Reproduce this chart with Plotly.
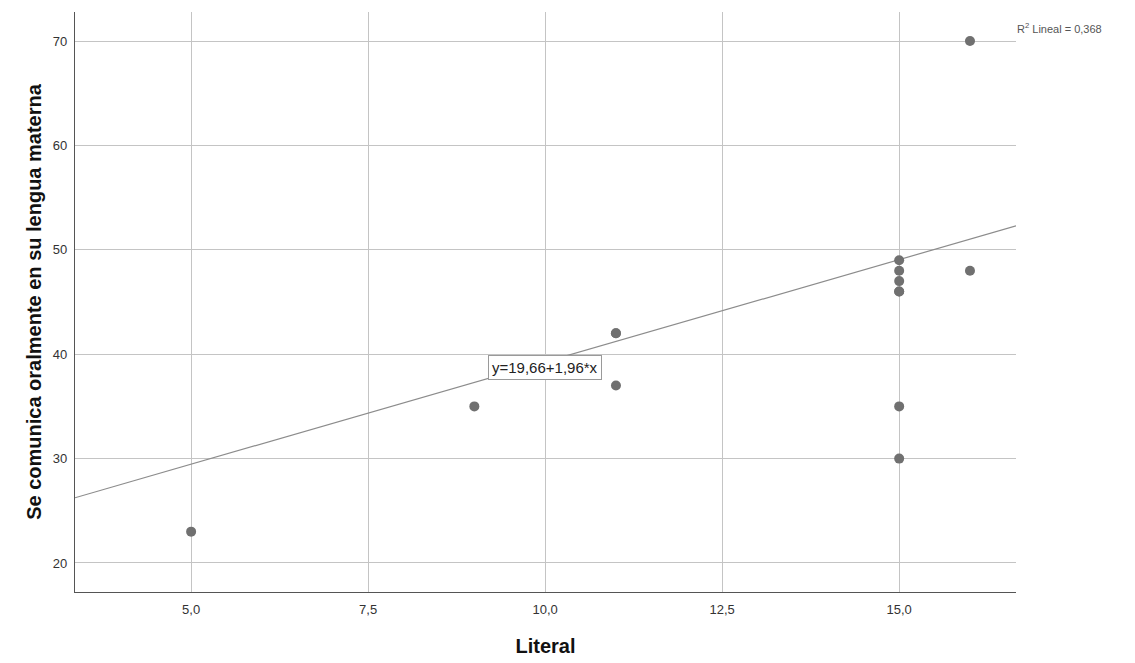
import plotly.graph_objects as go

x_vals = [5, 9, 11, 11, 11, 15, 15, 15, 15, 15, 15, 15, 16, 16]
y_vals = [23, 35, 42, 42, 37, 49, 48, 47, 46, 46, 35, 30, 70, 48]
intercept = 19.66
slope = 1.96
r2_text = "R<sup>2</sup> Lineal = 0,368"
eq_text = "y=19,66+1,96*x"
x_ticks = [5.0, 7.5, 10.0, 12.5, 15.0]
y_ticks = [20, 30, 40, 50, 60, 70]

x_range = [3.36, 16.65]
y_range = [17.22, 72.78]

fig = go.Figure()
fig.add_trace(go.Scatter(
    x=x_range, y=[intercept + slope * v for v in x_range],
    mode="lines", line=dict(color="#8c8c8c", width=1.2),
    hoverinfo="skip", showlegend=False))
fig.add_trace(go.Scatter(
    x=x_vals, y=y_vals, mode="markers",
    marker=dict(color="#707070", size=10),
    showlegend=False))

fig.add_annotation(x=10.0, y=38.7, xref="x", yref="y", text=eq_text,
                   showarrow=False, bgcolor="white", bordercolor="#9a9a9a",
                   borderwidth=1, borderpad=3,
                   font=dict(family="Liberation Sans, Arial", size=15, color="#222"))
fig.add_annotation(x=1.0, y=1.0, xref="paper", yref="paper", text=r2_text,
                   showarrow=False, xanchor="left", yanchor="top", xshift=-1, yshift=-7,
                   font=dict(family="Liberation Sans, Arial", size=11, color="#555"))

fig.update_layout(
    width=1127, height=655,
    margin=dict(l=67, r=119, t=4, b=71),
    paper_bgcolor="white", plot_bgcolor="white",
    separators=",.",
    font=dict(family="Liberation Sans, Arial", size=13, color="#333"),
    xaxis=dict(range=x_range, tickvals=x_ticks, tickformat=".1f",
               showgrid=True, gridcolor="#c4c4c4", gridwidth=1,
               showline=True, linecolor="#555", linewidth=1.2,
               zeroline=False, ticks="", ticklabelstandoff=5,
               title=dict(text="<b>Literal</b>", font=dict(size=20, color="#111"), standoff=23)),
    yaxis=dict(range=y_range, tickvals=y_ticks,
               showgrid=True, gridcolor="#c4c4c4", gridwidth=1,
               showline=True, linecolor="#555", linewidth=1.2,
               zeroline=False, ticks="", ticklabelstandoff=4,
               title=dict(text="<b>Se comunica oralmente en su lengua materna</b>",
                          font=dict(size=20, color="#111"), standoff=5)),
)

fig.write_html("out.html")
